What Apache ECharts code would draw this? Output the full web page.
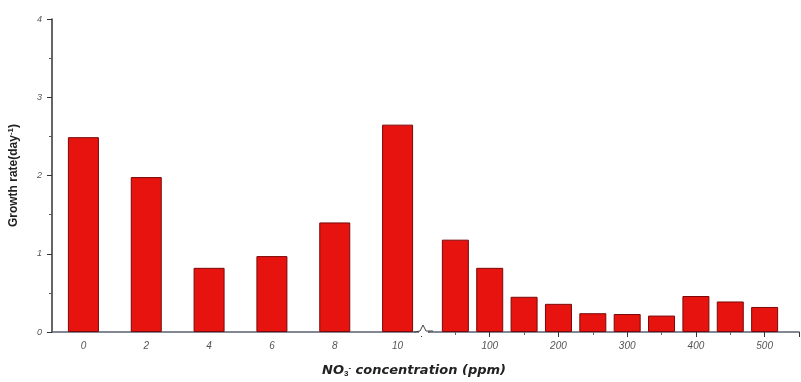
<!DOCTYPE html>
<html>
<head>
<meta charset="utf-8">
<script src="https://cdn.jsdelivr.net/npm/echarts@6/dist/echarts.min.js"></script>
<style>html,body{margin:0;padding:0;background:#fff}#c{width:801px;height:382px}</style>
</head>
<body>
<div id="c"></div>
<script>
// Low concentration section (ppm)
var lowCategories = ['0', '2', '4', '6', '8', '10'];
var lowValues = [2.49, 1.98, 0.82, 0.97, 1.40, 2.65];
// High concentration section (ppm)
var highConc = [50, 100, 150, 200, 250, 300, 350, 400, 450, 500];
var highValues = [1.18, 0.82, 0.45, 0.36, 0.24, 0.23, 0.21, 0.46, 0.39, 0.32];
var yTicks = [0, 1, 2, 3, 4];

var barStyle = { color: '#e6130f', borderColor: '#7a0808', borderWidth: 1 };
var labelStyle = { fontStyle: 'italic', fontSize: 10, color: '#555', fontFamily: 'Liberation Sans' };

var chart = echarts.init(document.getElementById('c'));
chart.setOption({
  animation: false,
  backgroundColor: '#fff',
  grid: [
    { left: 52, width: 377, top: 19, bottom: 50, outerBoundsMode: 'none', containLabel: false },
    { left: 421, right: 2, top: 19, bottom: 50, outerBoundsMode: 'none', containLabel: false }
  ],
  xAxis: [
    {
      gridIndex: 0, type: 'category', data: lowCategories,
      axisLine: { lineStyle: { color: '#5a6070', width: 1.5 } },
      axisTick: { alignWithLabel: true, length: 5, lineStyle: { color: '#333' } },
      axisLabel: Object.assign({ margin: 9 }, labelStyle)
    },
    {
      gridIndex: 1, type: 'value', min: 0, max: 550, interval: 100,
      axisLine: { lineStyle: { color: '#5a6070', width: 1.5 } },
      axisTick: { length: 5, lineStyle: { color: '#333' } },
      minorTick: { show: true, splitNumber: 2, length: 3, lineStyle: { color: '#666' } },
      splitLine: { show: false },
      axisLabel: Object.assign({ margin: 9, showMinLabel: false, showMaxLabel: false,
        formatter: function (v) { return (v === 0 || v === 550) ? '' : String(v); } }, labelStyle)
    }
  ],
  yAxis: [
    {
      gridIndex: 0, type: 'value', min: yTicks[0], max: yTicks[yTicks.length - 1], interval: 1,
      name: 'Growth rate(day{sup|-1})', nameLocation: 'middle', nameGap: 31,
      nameTextStyle: { fontSize: 12, fontWeight: 'bold', color: '#222', fontFamily: 'Liberation Sans',
        rich: { sup: { fontSize: 8, fontWeight: 'bold', color: '#222', verticalAlign: 'top', padding: [0,0,6,0] } } },
      axisLine: { show: true, lineStyle: { color: '#333', width: 1.5 } },
      axisTick: { show: true, length: 5, inside: false, lineStyle: { color: '#333' } },
      minorTick: { show: true, splitNumber: 2, length: 3, lineStyle: { color: '#555' } },
      splitLine: { show: false },
      axisLabel: Object.assign({ margin: 10 }, labelStyle, { fontSize: 9 })
    },
    {
      gridIndex: 1, type: 'value', min: 0, max: 4, interval: 1, show: false
    }
  ],
  graphic: [
    {
      type: 'text', left: 322, top: 364,
      style: {
        text: 'NO{sub|3}{sup|-} concentration (ppm)',
        font: 'bold italic 13px DejaVu Sans', fill: '#222',
        rich: {
          sub: { fontSize: 8, fontWeight: 'bold', fill: '#222', verticalAlign: 'bottom', padding: [6,0,0,0] },
          sup: { fontSize: 8, fontWeight: 'bold', fill: '#222', verticalAlign: 'top', padding: [0,0,6,0] }
        }
      }
    },
    {
      type: 'rect', silent: true, z: 50,
      shape: { x: 419, y: 328, width: 9, height: 8 },
      style: { fill: '#fff' }
    },
    {
      type: 'polyline', silent: true, z: 51,
      shape: { points: [[414, 332], [420, 331], [423, 325], [426, 331], [433, 331]] },
      style: { stroke: '#444', lineWidth: 1, fill: null }
    }
  ],
  series: [
    {
      type: 'bar', xAxisIndex: 0, yAxisIndex: 0, barWidth: 31,
      data: lowValues, itemStyle: barStyle
    },
    {
      type: 'bar', xAxisIndex: 1, yAxisIndex: 1, barWidth: 27,
      data: highConc.map(function (c, i) { return [c, highValues[i]]; }),
      itemStyle: barStyle
    }
  ]
});
</script>
</body>
</html>
